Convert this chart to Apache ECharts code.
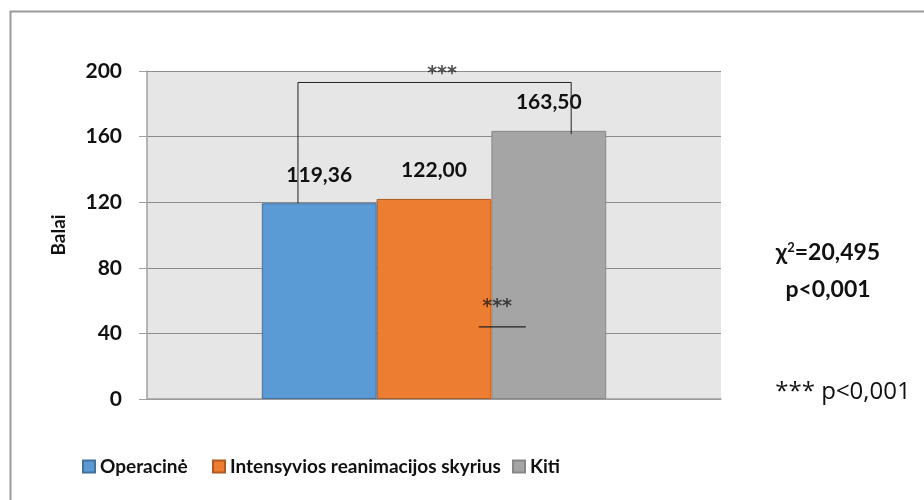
<!DOCTYPE html>
<html>
<head>
<meta charset="utf-8">
<script src="https://cdn.jsdelivr.net/npm/echarts@6/dist/echarts.min.js"></script>
<style>
  html, body { margin: 0; padding: 0; background: #fff; }
  #chart { width: 924px; height: 500px; }
</style>
</head>
<body>
<div id="chart"></div>
<script>
var groups = ["Operacinė", "Intensyvios reanimacijos skyrius", "Kiti"];
var scores = [119.36, 122.0, 163.5];
var colors = ["#5b9bd5", "#ed7d31", "#a5a5a5"];
var borders = ["#41719c", "#ae5a21", "#878787"];
var yTicks = [0, 40, 80, 120, 160, 200];

// significance bracket, x as share of plot width, y in score units
var bracket = [[0.263, 119.36], [0.263, 193], [0.739, 193], [0.739, 161.5]];
var underline = [[0.578, 44], [0.66, 44]];
var stars = [[0.514, 198], [0.61, 56]];

var font = "Lato, 'Open Sans', sans-serif";
var legendLeft = [77, 207, 507];

var myChart = echarts.init(document.getElementById("chart"));

var series = groups.map(function (g, i) {
  return {
    name: g,
    type: "bar",
    data: [scores[i]],
    barGap: 0,
    barCategoryGap: "40%",
    itemStyle: { color: colors[i], borderColor: borders[i], borderWidth: 1 },
    label: {
      show: true,
      position: "top",
      distance: 18,
      fontFamily: font,
      fontWeight: "bold",
      fontSize: 21,
      color: "#111",
      formatter: function (p) { return p.value.toFixed(2).replace(".", ","); }
    }
  };
});

series.push({
  type: "line",
  xAxisIndex: 1,
  data: bracket,
  symbol: "none",
  silent: true,
  clip: false,
  lineStyle: { color: "#222", width: 1 },
  z: 5
});
series.push({
  type: "line",
  xAxisIndex: 1,
  data: underline,
  symbol: "none",
  silent: true,
  clip: false,
  lineStyle: { color: "#222", width: 1.2 },
  z: 5
});
series.push({
  type: "scatter",
  xAxisIndex: 1,
  data: stars,
  symbolSize: 0,
  silent: true,
  clip: false,
  label: {
    show: true,
    position: "inside",
    formatter: "***",
    fontFamily: "'DejaVu Sans', sans-serif",
    fontWeight: "bold",
    fontSize: 19,
    color: "#222"
  },
  z: 6
});

// one legend per item so the gaps follow the original
var legends = groups.map(function (g, i) {
  return {
    data: [g],
    left: legendLeft[i],
    top: 452,
    itemWidth: 12,
    itemHeight: 12,
    icon: "rect",
    textStyle: { fontFamily: font, fontWeight: "bold", fontSize: 19, color: "#111" }
  };
});

myChart.setOption({
  animation: false,
  backgroundColor: "#fff",
  grid: {
    left: 147, right: 203, top: 71, bottom: 101,
    show: true, backgroundColor: "#e6e6e6", borderWidth: 0
  },
  legend: legends,
  xAxis: [
    {
      type: "category",
      data: [""],
      axisLine: { lineStyle: { color: "#a0a0a0", width: 1.5 } },
      axisTick: { show: false },
      axisLabel: { show: false }
    },
    {
      type: "value",
      min: 0,
      max: 1,
      show: false
    }
  ],
  yAxis: {
    type: "value",
    min: 0,
    max: 200,
    interval: 40,
    name: "Balai",
    nameLocation: "middle",
    nameGap: 79,
    nameRotate: 90,
    nameTextStyle: { fontFamily: font, fontWeight: "bold", fontSize: 19, color: "#111" },
    axisLine: { show: true, lineStyle: { color: "#a0a0a0", width: 1.5 } },
    axisTick: { show: true, length: 8, lineStyle: { color: "#a0a0a0" } },
    axisLabel: {
      margin: 25,
      fontFamily: font,
      fontWeight: "bold",
      fontSize: 21,
      color: "#111",
      formatter: function (v) { return yTicks.indexOf(v) >= 0 ? String(v) : ""; }
    },
    splitLine: { lineStyle: { color: "#8c8c8c", width: 1 } }
  },
  graphic: [
    {
      type: "rect",
      left: 8, top: 9,
      shape: { width: 940, height: 520 },
      style: { fill: "none", stroke: "#9a9a9a", lineWidth: 2 },
      silent: true,
      z: -1
    },
    {
      type: "text",
      x: 828, y: 253,
      style: {
        text: "χ{sup|2}=20,495",
        align: "center",
        verticalAlign: "middle",
        fontFamily: font,
        fontWeight: "bold",
        fontSize: 23,
        fill: "#111",
        rich: { sup: { fontSize: 13, fontWeight: "bold", fontFamily: font, padding: [0, 0, 10, 0] } }
      }
    },
    {
      type: "text",
      x: 828, y: 290,
      style: {
        text: "p<0,001",
        align: "center",
        verticalAlign: "middle",
        fontFamily: font,
        fontWeight: "bold",
        fontSize: 23,
        fill: "#111"
      }
    },
    {
      type: "text",
      x: 843, y: 392,
      style: {
        text: "*** p<0,001",
        align: "center",
        verticalAlign: "middle",
        fontFamily: "'Open Sans', sans-serif",
        fontSize: 24,
        fill: "#111"
      }
    }
  ],
  series: series
});
</script>
</body>
</html>
